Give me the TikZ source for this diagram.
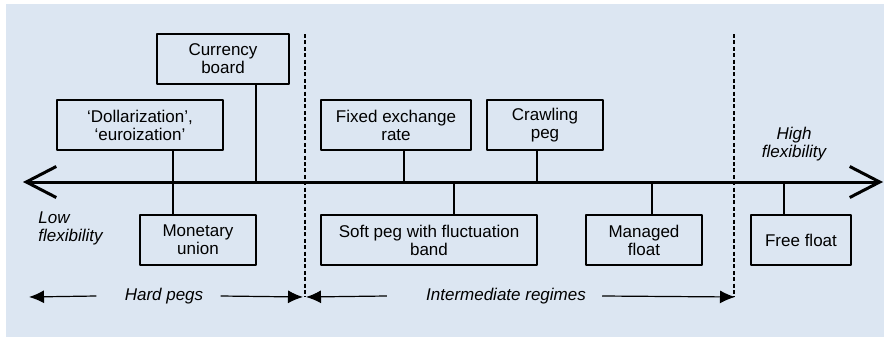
\documentclass[tikz,border=0pt]{standalone}
\usepackage{fontspec}
\setmainfont{Liberation Sans}
\usetikzlibrary{arrows.meta}
\definecolor{bgblue}{RGB}{220,230,242}

\begin{document}
\begin{tikzpicture}[x=0.5pt, y=-0.5pt, font=\fontsize{8.5}{9}\selectfont, line join=round,
    regime/.style={draw, line width=0.65pt, minimum height=25pt, inner sep=0pt, align=center},
    stem/.style={line width=0.65pt},
    border/.style={dash pattern=on 2pt off 1.2pt, line width=0.6pt},
    span/.style={-{Latex[length=7.5pt, width=6.5pt]}, line width=0.6pt},
    tag/.style={font=\fontsize{8.5}{9}\selectfont\itshape, inner sep=0pt}]
    \useasboundingbox (0,0) rectangle (884,338);
    \fill[bgblue] (6,4) rectangle (884,337);
    \path
    (23,182) coordinate (L)
    (883,182) coordinate (R)
    (305,34) coordinate (d1top)
    (305,297) coordinate (d1bot)
    (734,34) coordinate (d2top)
    (734,297) coordinate (d2bot)
    (173,182) coordinate (x1)
    (256,182) coordinate (x2)
    (404,182) coordinate (x3)
    (454,182) coordinate (x4)
    (537,182) coordinate (x5)
    (652,182) coordinate (x6)
    (784,182) coordinate (x7)
    (29,297) coordinate (hl)
    (303,297) coordinate (hr)
    (306,297) coordinate (ml)
    (735,297) coordinate (mr)
    ;
    % regimes above the axis
    \node[regime, minimum width=66pt] (cb) at (223,59) {Currency\\board};
    \node[regime, minimum width=83pt] (dol) at (140,125) {`Dollarization',\\`euroization'};
    \node[regime, minimum width=75pt] (fix) at (396,125) {Fixed exchange\\rate};
    \node[regime, minimum width=58pt] (crawl) at (545,125) {Crawling\\peg};
    % regimes below the axis
    \node[regime, minimum width=58pt] (mu) at (198,240) {Monetary\\union};
    \node[regime, minimum width=108pt] (soft) at (429,240) {Soft peg with fluctuation\\band};
    \node[regime, minimum width=58pt] (managed) at (644,240) {Managed\\float};
    \node[regime, minimum width=50pt] (free) at (801,240) {Free float};

    \foreach \b/\x in {cb/x2, dol/x1, fix/x3, crawl/x5}{
        \draw[stem] (\x) -- (\x |- \b.south);
    }
    \foreach \b/\x in {mu/x1, soft/x4, managed/x6, free/x7}{
        \draw[stem] (\x) -- (\x |- \b.north);
    }
    \draw[line width=1.5pt, {Straight Barb[length=15pt, width=15.5pt]}-{Straight Barb[length=15pt, width=15.5pt]}] (L) -- (R);

    \draw[border] (d1top) -- (d1bot);
    \draw[border] (d2top) -- (d2bot);

    \node[tag, anchor=north west, align=left] (low) at (38,211) {Low\\flexibility};
    \node[tag, align=center] (high) at (794,144) {High\\flexibility};
    \node[tag] (hard) at (164,296) {Hard pegs};
    \node[tag] (mid) at (506,296) {Intermediate regimes};

    \draw[span] ([xshift=-14pt]hard.west) -- (hl);
    \draw[span] ([xshift=8.5pt]hard.east) -- (hr);
    \draw[span] ([xshift=-19.5pt]mid.west) -- (ml);
    \draw[span] ([xshift=8pt]mid.east) -- (mr);
\end{tikzpicture}
\end{document}
